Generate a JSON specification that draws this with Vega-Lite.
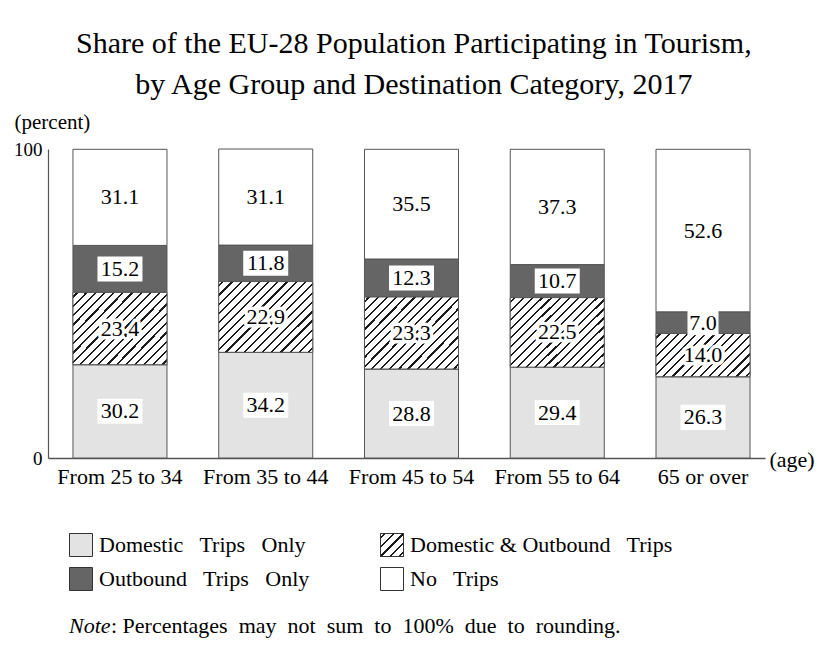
{
  "$schema": "https://vega.github.io/schema/vega-lite/v6.json",
  "padding": {"left": 13, "top": 29, "right": 4, "bottom": 4},
  "background": "white",
  "title": {
    "text": ["Share of the EU-28 Population Participating in Tourism,", "by Age Group and Destination Category, 2017"],
    "font": "Liberation Serif", "fontSize": 30, "fontWeight": "normal", "lineHeight": 41,
    "anchor": "middle", "offset": 11, "color": "#000"
  },
  "config": {
    "view": {"stroke": null},
    "font": "Liberation Serif",
    "axisY": {
      "titleFont": "Liberation Serif", "titleFontSize": 21, "titleFontWeight": "normal", "titleColor": "#000",
      "titleAngle": 0, "titleAlign": "left", "titleBaseline": "middle", "titleX": -34, "titleY": -27,
      "labelFont": "Liberation Serif", "labelFontSize": 19, "labelColor": "#000", "labelPadding": 6,
      "ticks": false, "tickSize": 0, "domainColor": "#555", "domainWidth": 1.2, "grid": false
    },
    "axisX": {
      "titleFont": "Liberation Serif", "titleFontSize": 22, "titleFontWeight": "normal", "titleColor": "#000",
      "titleAngle": 0, "titleAlign": "left", "titleBaseline": "middle", "titleX": 721, "titleY": 1,
      "labelAngle": 0, "labelFont": "Liberation Serif", "labelFontSize": 22, "labelColor": "#000", "labelPadding": 8,
      "ticks": false, "tickSize": 0, "domainColor": "#555", "domainWidth": 1.5, "grid": false
    }
  },
  "spacing": 44,
  "vconcat": [
    {
      "width": 717,
      "height": 309,
      "data": {"values": [
        {"age": "From 25 to 34", "cat": "Domestic Trips Only", "order": 1, "value": 30.2},
        {"age": "From 25 to 34", "cat": "Domestic & Outbound Trips", "order": 2, "value": 23.4},
        {"age": "From 25 to 34", "cat": "Outbound Trips Only", "order": 3, "value": 15.2},
        {"age": "From 25 to 34", "cat": "No Trips", "order": 4, "value": 31.1},
        {"age": "From 35 to 44", "cat": "Domestic Trips Only", "order": 1, "value": 34.2},
        {"age": "From 35 to 44", "cat": "Domestic & Outbound Trips", "order": 2, "value": 22.9},
        {"age": "From 35 to 44", "cat": "Outbound Trips Only", "order": 3, "value": 11.8},
        {"age": "From 35 to 44", "cat": "No Trips", "order": 4, "value": 31.1},
        {"age": "From 45 to 54", "cat": "Domestic Trips Only", "order": 1, "value": 28.8},
        {"age": "From 45 to 54", "cat": "Domestic & Outbound Trips", "order": 2, "value": 23.3},
        {"age": "From 45 to 54", "cat": "Outbound Trips Only", "order": 3, "value": 12.3},
        {"age": "From 45 to 54", "cat": "No Trips", "order": 4, "value": 35.5},
        {"age": "From 55 to 64", "cat": "Domestic Trips Only", "order": 1, "value": 29.4},
        {"age": "From 55 to 64", "cat": "Domestic & Outbound Trips", "order": 2, "value": 22.5},
        {"age": "From 55 to 64", "cat": "Outbound Trips Only", "order": 3, "value": 10.7},
        {"age": "From 55 to 64", "cat": "No Trips", "order": 4, "value": 37.3},
        {"age": "65 or over", "cat": "Domestic Trips Only", "order": 1, "value": 26.3},
        {"age": "65 or over", "cat": "Domestic & Outbound Trips", "order": 2, "value": 14.0},
        {"age": "65 or over", "cat": "Outbound Trips Only", "order": 3, "value": 7.0},
        {"age": "65 or over", "cat": "No Trips", "order": 4, "value": 52.6}
      ]},
      "transform": [
        {"window": [{"op": "sum", "field": "value", "as": "cum"}], "groupby": ["age"], "sort": [{"field": "order"}], "frame": [null, 0]},
        {"calculate": "datum.cum - datum.value", "as": "start"},
        {"calculate": "datum.cum - datum.value / 2", "as": "mid"}
      ],
      "encoding": {
        "x": {
          "field": "age", "type": "nominal", "sort": null,
          "scale": {"paddingInner": 0.355, "paddingOuter": 0.137, "align": 0.625},
          "axis": {"title": "(age)"}
        }
      },
      "layer": [
        {
          "mark": {"type": "bar", "stroke": "#555", "strokeWidth": 1},
          "encoding": {
            "y": {
              "field": "start", "type": "quantitative", "scale": {"domain": [0, 100], "nice": false},
              "axis": {"values": [0, 100], "title": "(percent)"}
            },
            "y2": {"field": "cum"},
            "fill": {
              "field": "cat", "type": "nominal",
              "scale": {"domain": ["Domestic Trips Only", "Domestic & Outbound Trips", "Outbound Trips Only", "No Trips"], "range": ["#e3e3e3", "#ffffff", "#656565", "#ffffff"]},
              "legend": null
            }
          }
        },
        {
          "transform": [{"filter": "datum.cat === 'Domestic & Outbound Trips' && datum.value >= 20"}],
          "mark": {"type": "bar", "stroke": "#555", "strokeWidth": 1,
            "fill": {"gradient": "linear", "x1": 0, "y1": 0, "x2": 1.1177, "y2": 0.8442, "stops": [
              {"offset": 0, "color": "#ffffff"},
              {"offset": 0.0211, "color": "#ffffff"}, {"offset": 0.0211, "color": "#1a1a1a"}, {"offset": 0.0345, "color": "#1a1a1a"}, {"offset": 0.0345, "color": "#ffffff"},
              {"offset": 0.0766, "color": "#ffffff"}, {"offset": 0.0766, "color": "#1a1a1a"}, {"offset": 0.0900, "color": "#1a1a1a"}, {"offset": 0.0900, "color": "#ffffff"},
              {"offset": 0.1322, "color": "#ffffff"}, {"offset": 0.1322, "color": "#1a1a1a"}, {"offset": 0.1456, "color": "#1a1a1a"}, {"offset": 0.1456, "color": "#ffffff"},
              {"offset": 0.1877, "color": "#ffffff"}, {"offset": 0.1877, "color": "#1a1a1a"}, {"offset": 0.2011, "color": "#1a1a1a"}, {"offset": 0.2011, "color": "#ffffff"},
              {"offset": 0.2433, "color": "#ffffff"}, {"offset": 0.2433, "color": "#1a1a1a"}, {"offset": 0.2567, "color": "#1a1a1a"}, {"offset": 0.2567, "color": "#ffffff"},
              {"offset": 0.2989, "color": "#ffffff"}, {"offset": 0.2989, "color": "#1a1a1a"}, {"offset": 0.3123, "color": "#1a1a1a"}, {"offset": 0.3123, "color": "#ffffff"},
              {"offset": 0.3544, "color": "#ffffff"}, {"offset": 0.3544, "color": "#1a1a1a"}, {"offset": 0.3678, "color": "#1a1a1a"}, {"offset": 0.3678, "color": "#ffffff"},
              {"offset": 0.4100, "color": "#ffffff"}, {"offset": 0.4100, "color": "#1a1a1a"}, {"offset": 0.4234, "color": "#1a1a1a"}, {"offset": 0.4234, "color": "#ffffff"},
              {"offset": 0.4655, "color": "#ffffff"}, {"offset": 0.4655, "color": "#1a1a1a"}, {"offset": 0.4789, "color": "#1a1a1a"}, {"offset": 0.4789, "color": "#ffffff"},
              {"offset": 0.5211, "color": "#ffffff"}, {"offset": 0.5211, "color": "#1a1a1a"}, {"offset": 0.5345, "color": "#1a1a1a"}, {"offset": 0.5345, "color": "#ffffff"},
              {"offset": 0.5766, "color": "#ffffff"}, {"offset": 0.5766, "color": "#1a1a1a"}, {"offset": 0.5900, "color": "#1a1a1a"}, {"offset": 0.5900, "color": "#ffffff"},
              {"offset": 0.6322, "color": "#ffffff"}, {"offset": 0.6322, "color": "#1a1a1a"}, {"offset": 0.6456, "color": "#1a1a1a"}, {"offset": 0.6456, "color": "#ffffff"},
              {"offset": 0.6877, "color": "#ffffff"}, {"offset": 0.6877, "color": "#1a1a1a"}, {"offset": 0.7011, "color": "#1a1a1a"}, {"offset": 0.7011, "color": "#ffffff"},
              {"offset": 0.7433, "color": "#ffffff"}, {"offset": 0.7433, "color": "#1a1a1a"}, {"offset": 0.7567, "color": "#1a1a1a"}, {"offset": 0.7567, "color": "#ffffff"},
              {"offset": 0.7989, "color": "#ffffff"}, {"offset": 0.7989, "color": "#1a1a1a"}, {"offset": 0.8123, "color": "#1a1a1a"}, {"offset": 0.8123, "color": "#ffffff"},
              {"offset": 0.8544, "color": "#ffffff"}, {"offset": 0.8544, "color": "#1a1a1a"}, {"offset": 0.8678, "color": "#1a1a1a"}, {"offset": 0.8678, "color": "#ffffff"},
              {"offset": 0.9100, "color": "#ffffff"}, {"offset": 0.9100, "color": "#1a1a1a"}, {"offset": 0.9234, "color": "#1a1a1a"}, {"offset": 0.9234, "color": "#ffffff"},
              {"offset": 0.9655, "color": "#ffffff"}, {"offset": 0.9655, "color": "#1a1a1a"}, {"offset": 0.9789, "color": "#1a1a1a"}, {"offset": 0.9789, "color": "#ffffff"},
              {"offset": 1, "color": "#ffffff"}
            ]}
          },
          "encoding": {
            "y": {"field": "start", "type": "quantitative", "axis": {"values": [0, 100], "title": "(percent)"}},
            "y2": {"field": "cum"}
          }
        },
        {
          "transform": [{"filter": "datum.cat === 'Domestic & Outbound Trips' && datum.value < 20"}],
          "mark": {"type": "bar", "stroke": "#555", "strokeWidth": 1,
            "fill": {"gradient": "linear", "x1": 0, "y1": 0, "x2": 1.2053, "y2": 0.5552, "stops": [
              {"offset": 0, "color": "#ffffff"},
              {"offset": 0.0253, "color": "#ffffff"}, {"offset": 0.0253, "color": "#1a1a1a"}, {"offset": 0.0413, "color": "#1a1a1a"}, {"offset": 0.0413, "color": "#ffffff"},
              {"offset": 0.0920, "color": "#ffffff"}, {"offset": 0.0920, "color": "#1a1a1a"}, {"offset": 0.1080, "color": "#1a1a1a"}, {"offset": 0.1080, "color": "#ffffff"},
              {"offset": 0.1587, "color": "#ffffff"}, {"offset": 0.1587, "color": "#1a1a1a"}, {"offset": 0.1747, "color": "#1a1a1a"}, {"offset": 0.1747, "color": "#ffffff"},
              {"offset": 0.2253, "color": "#ffffff"}, {"offset": 0.2253, "color": "#1a1a1a"}, {"offset": 0.2413, "color": "#1a1a1a"}, {"offset": 0.2413, "color": "#ffffff"},
              {"offset": 0.2920, "color": "#ffffff"}, {"offset": 0.2920, "color": "#1a1a1a"}, {"offset": 0.3080, "color": "#1a1a1a"}, {"offset": 0.3080, "color": "#ffffff"},
              {"offset": 0.3587, "color": "#ffffff"}, {"offset": 0.3587, "color": "#1a1a1a"}, {"offset": 0.3747, "color": "#1a1a1a"}, {"offset": 0.3747, "color": "#ffffff"},
              {"offset": 0.4253, "color": "#ffffff"}, {"offset": 0.4253, "color": "#1a1a1a"}, {"offset": 0.4413, "color": "#1a1a1a"}, {"offset": 0.4413, "color": "#ffffff"},
              {"offset": 0.4920, "color": "#ffffff"}, {"offset": 0.4920, "color": "#1a1a1a"}, {"offset": 0.5080, "color": "#1a1a1a"}, {"offset": 0.5080, "color": "#ffffff"},
              {"offset": 0.5587, "color": "#ffffff"}, {"offset": 0.5587, "color": "#1a1a1a"}, {"offset": 0.5747, "color": "#1a1a1a"}, {"offset": 0.5747, "color": "#ffffff"},
              {"offset": 0.6253, "color": "#ffffff"}, {"offset": 0.6253, "color": "#1a1a1a"}, {"offset": 0.6413, "color": "#1a1a1a"}, {"offset": 0.6413, "color": "#ffffff"},
              {"offset": 0.6920, "color": "#ffffff"}, {"offset": 0.6920, "color": "#1a1a1a"}, {"offset": 0.7080, "color": "#1a1a1a"}, {"offset": 0.7080, "color": "#ffffff"},
              {"offset": 0.7587, "color": "#ffffff"}, {"offset": 0.7587, "color": "#1a1a1a"}, {"offset": 0.7747, "color": "#1a1a1a"}, {"offset": 0.7747, "color": "#ffffff"},
              {"offset": 0.8253, "color": "#ffffff"}, {"offset": 0.8253, "color": "#1a1a1a"}, {"offset": 0.8413, "color": "#1a1a1a"}, {"offset": 0.8413, "color": "#ffffff"},
              {"offset": 0.8920, "color": "#ffffff"}, {"offset": 0.8920, "color": "#1a1a1a"}, {"offset": 0.9080, "color": "#1a1a1a"}, {"offset": 0.9080, "color": "#ffffff"},
              {"offset": 0.9587, "color": "#ffffff"}, {"offset": 0.9587, "color": "#1a1a1a"}, {"offset": 0.9747, "color": "#1a1a1a"}, {"offset": 0.9747, "color": "#ffffff"},
              {"offset": 1, "color": "#ffffff"}
            ]}
          },
          "encoding": {
            "y": {"field": "start", "type": "quantitative", "axis": {"values": [0, 100], "title": "(percent)"}},
            "y2": {"field": "cum"}
          }
        },
        {
          "transform": [{"filter": "datum.cat === 'Domestic Trips Only' || datum.cat === 'Outbound Trips Only'"}],
          "mark": {"type": "point", "filled": true, "fill": "#ffffff", "strokeWidth": 0, "opacity": 1, "size": 2025},
          "encoding": {
            "y": {"field": "mid", "type": "quantitative", "axis": {"values": [0, 100], "title": "(percent)"}},
            "shape": {
              "condition": {"test": "datum.value < 10", "value": "M-0.69,-0.556H0.69V0.556H-0.69Z"},
              "value": "M-1,-0.556H1V0.556H-1Z"
            }
          }
        },
        {
          "transform": [{"filter": "datum.cat === 'Domestic & Outbound Trips'"}],
          "mark": {"type": "text", "font": "Liberation Serif", "fontSize": 22, "baseline": "middle", "align": "center", "fill": "#ffffff", "stroke": "#ffffff", "strokeWidth": 7, "strokeJoin": "round"},
          "encoding": {
            "y": {"field": "mid", "type": "quantitative", "axis": {"values": [0, 100], "title": "(percent)"}},
            "text": {"field": "value", "type": "quantitative", "format": ".1f"}
          }
        },
        {
          "mark": {"type": "text", "font": "Liberation Serif", "fontSize": 22, "baseline": "middle", "align": "center", "color": "#000"},
          "encoding": {
            "y": {"field": "mid", "type": "quantitative", "axis": {"values": [0, 100], "title": "(percent)"}},
            "text": {"field": "value", "type": "quantitative", "format": ".1f"}
          }
        }
      ]
    },
    {
      "width": 717,
      "height": 34,
      "data": {"values": [
        {"cat": "Domestic Trips Only", "label": "Domestic\u00a0\u00a0 Trips\u00a0\u00a0 Only", "col": "c1", "row": "r1"},
        {"cat": "Domestic & Outbound Trips", "label": "Domestic & Outbound\u00a0\u00a0 Trips", "col": "c2", "row": "r1"},
        {"cat": "Outbound Trips Only", "label": "Outbound\u00a0\u00a0 Trips\u00a0\u00a0 Only", "col": "c1", "row": "r2"},
        {"cat": "No Trips", "label": "No\u00a0\u00a0 Trips", "col": "c2", "row": "r2"}
      ]},
      "encoding": {
        "x": {"field": "col", "type": "ordinal", "scale": {"type": "point", "domain": ["c1", "c2"], "range": [33, 344], "padding": 0}, "axis": null},
        "y": {"field": "row", "type": "ordinal", "scale": {"type": "point", "domain": ["r1", "r2"], "padding": 0}, "axis": null}
      },
      "layer": [
        {
          "mark": {"type": "point", "shape": "square", "size": 529, "filled": true, "stroke": "#333", "strokeWidth": 1, "opacity": 1},
          "encoding": {
            "fill": {
              "field": "cat", "type": "nominal",
              "scale": {"domain": ["Domestic Trips Only", "Domestic & Outbound Trips", "Outbound Trips Only", "No Trips"], "range": ["#e3e3e3", "#ffffff", "#656565", "#ffffff"]},
              "legend": null
            }
          }
        },
        {
          "transform": [{"filter": "datum.cat === 'Domestic & Outbound Trips'"}],
          "mark": {"type": "point", "shape": "square", "size": 529, "filled": true, "stroke": "#333", "strokeWidth": 1, "opacity": 1,
            "fill": {"gradient": "linear", "x1": 0, "y1": 0, "x2": 1, "y2": 1, "stops": [
              {"offset": 0, "color": "#ffffff"},
              {"offset": 0.076, "color": "#ffffff"}, {"offset": 0.076, "color": "#1a1a1a"}, {"offset": 0.124, "color": "#1a1a1a"}, {"offset": 0.124, "color": "#ffffff"},
              {"offset": 0.276, "color": "#ffffff"}, {"offset": 0.276, "color": "#1a1a1a"}, {"offset": 0.324, "color": "#1a1a1a"}, {"offset": 0.324, "color": "#ffffff"},
              {"offset": 0.476, "color": "#ffffff"}, {"offset": 0.476, "color": "#1a1a1a"}, {"offset": 0.524, "color": "#1a1a1a"}, {"offset": 0.524, "color": "#ffffff"},
              {"offset": 0.676, "color": "#ffffff"}, {"offset": 0.676, "color": "#1a1a1a"}, {"offset": 0.724, "color": "#1a1a1a"}, {"offset": 0.724, "color": "#ffffff"},
              {"offset": 0.876, "color": "#ffffff"}, {"offset": 0.876, "color": "#1a1a1a"}, {"offset": 0.924, "color": "#1a1a1a"}, {"offset": 0.924, "color": "#ffffff"},
              {"offset": 1, "color": "#ffffff"}
            ]}
          }
        },
        {
          "mark": {"type": "text", "font": "Liberation Serif", "fontSize": 22, "align": "left", "baseline": "middle", "dx": 18, "color": "#000"},
          "encoding": {"text": {"field": "label"}}
        },
        {
          "data": {"values": [{"col": "c1", "row": "r2"}]},
          "mark": {"type": "text", "font": "Liberation Serif", "fontSize": 22, "fontStyle": "italic", "align": "left", "baseline": "middle", "dx": -12, "dy": 47, "color": "#000", "text": "Note"}
        },
        {
          "data": {"values": [{"col": "c1", "row": "r2"}]},
          "mark": {"type": "text", "font": "Liberation Serif", "fontSize": 22, "align": "left", "baseline": "middle", "dx": 30, "dy": 47, "color": "#000", "text": ": Percentages\u00a0 may\u00a0 not\u00a0 sum\u00a0 to\u00a0 100%\u00a0 due\u00a0 to\u00a0 rounding."}
        }
      ]
    }
  ]
}
